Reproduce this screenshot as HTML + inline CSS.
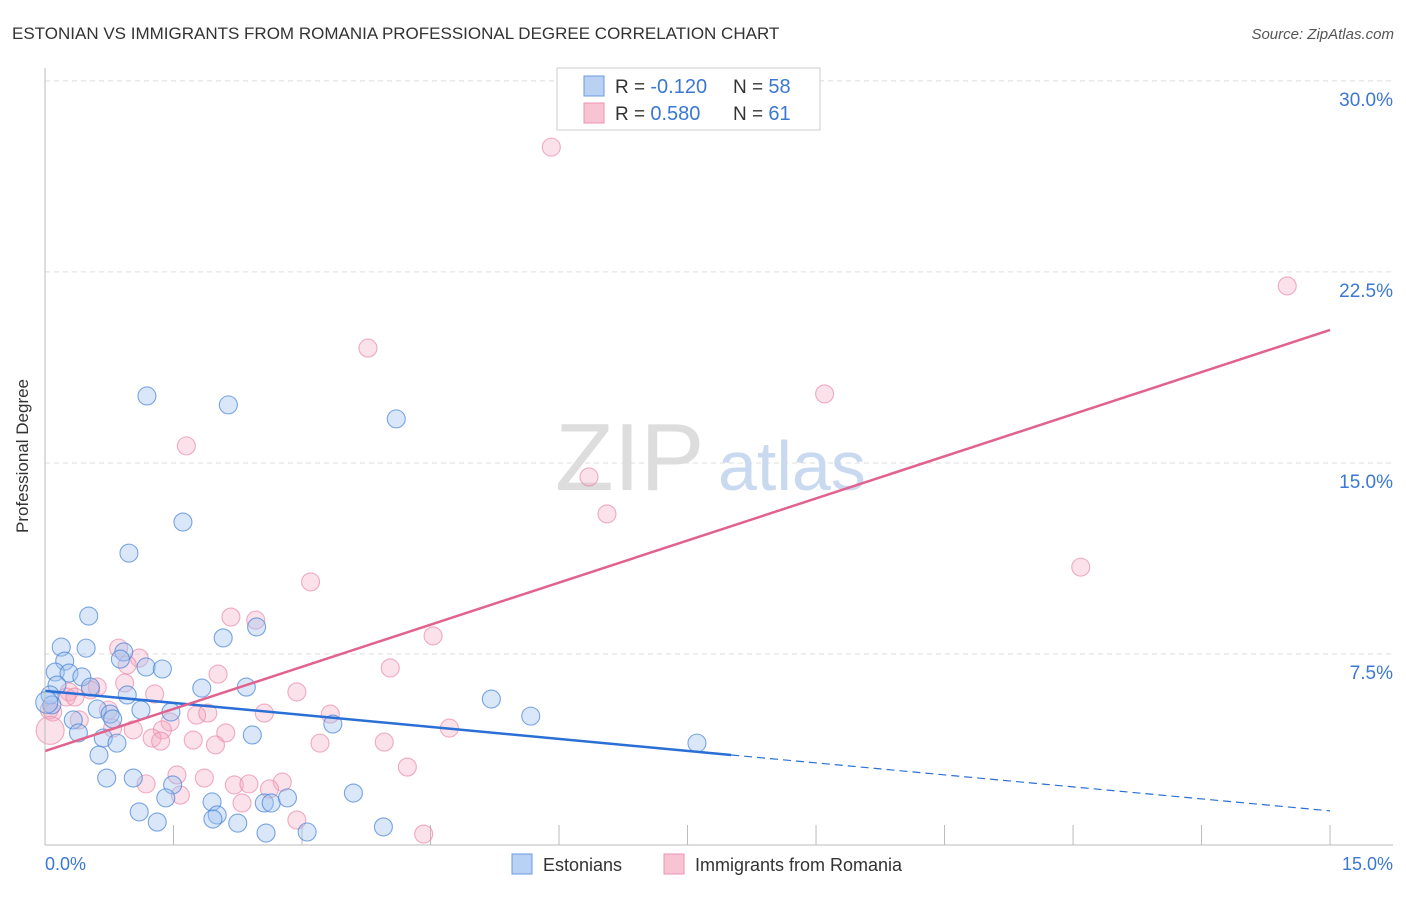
<!DOCTYPE html>
<html><head><meta charset="utf-8"><style>
body{margin:0;background:#fff;font-family:"Liberation Sans",sans-serif}
svg text{font-family:"Liberation Sans",sans-serif}
</style></head><body>
<svg id="chart" width="1406" height="892" viewBox="0 0 1406 892">
<text x="12" y="39" font-size="17" fill="#333">ESTONIAN VS IMMIGRANTS FROM ROMANIA PROFESSIONAL DEGREE CORRELATION CHART</text>
<text x="1394" y="39" font-size="15" fill="#555" font-style="italic" text-anchor="end">Source: ZipAtlas.com</text>
<text x="28" y="456" font-size="17" fill="#333" text-anchor="middle" transform="rotate(-90 28 456)">Professional Degree</text>
<g id="grid"></g>
<text x="555" y="490" font-size="96" fill="#ddd" font-family="Liberation Serif">ZIP</text>
<text x="718" y="490" font-size="70" fill="#c9daf0">atlas</text>
<g id="points"></g>
<g id="lines"></g>
<line x1="45" y1="68" x2="45" y2="845" stroke="#bbb"/>
<line x1="45" y1="845" x2="1393" y2="845" stroke="#bbb"/>
<text x="45" y="870" font-size="18" fill="#3a78d4">0.0%</text>
<text x="1393" y="870" font-size="18" fill="#3a78d4" text-anchor="end">15.0%</text>
<g>
<rect x="557" y="68" width="263" height="62" fill="#fff" stroke="#ccc"/>
<rect x="584" y="76" width="20" height="20" fill="#b9d2f3" stroke="#6b9be0"/>
<rect x="584" y="103" width="20" height="20" fill="#f8c4d3" stroke="#ec93b1"/>
<text x="615" y="93" font-size="19" fill="#333">R = <tspan fill="#3a78d4" font-size="20">-0.120</tspan></text>
<text x="733" y="93" font-size="19" fill="#333">N = <tspan fill="#3a78d4" font-size="20">58</tspan></text>
<text x="615" y="120" font-size="19" fill="#333">R = <tspan fill="#3a78d4" font-size="20"> 0.580</tspan></text>
<text x="733" y="120" font-size="19" fill="#333">N = <tspan fill="#3a78d4" font-size="20"> 61</tspan></text>
</g>
<g>
<rect x="512" y="854" width="20" height="20" fill="#b9d2f3" stroke="#6b9be0"/>
<text x="543" y="871" font-size="18" fill="#333">Estonians</text>
<rect x="664" y="854" width="20" height="20" fill="#f8c4d3" stroke="#ec93b1"/>
<text x="695" y="871" font-size="18" fill="#333">Immigrants from Romania</text>
</g>
</svg>
<script>
const yTicks=[7.5,15,22.5,30];
const yTickLabels=["7.5%","15.0%","22.5%","30.0%"];
const xTicks=[1.5,3,4.5,6,7.5,9,10.5,12,13.5,15];
const blueX=[1.19,2.14,4.10,1.61,0.98,0.51,2.47,2.08,0.19,0.48,0.92,0.23,0.88,1.18,1.37,0.12,0.28,0.43,0.14,0.53,1.83,2.35,0.06,0.96,5.21,0.08,0.61,1.12,1.47,0.76,0.79,5.67,3.36,0.33,0.39,2.42,0.68,0.84,7.61,0.63,0.72,1.03,1.49,3.60,1.41,1.95,2.56,2.64,2.83,1.10,2.01,1.96,1.31,2.25,3.95,2.58,3.06,0.02];
const blueY=[17.63,17.28,16.73,12.68,11.46,8.99,8.56,8.13,7.77,7.73,7.58,7.22,7.30,6.99,6.91,6.79,6.75,6.60,6.28,6.20,6.16,6.20,5.89,5.89,5.73,5.50,5.34,5.30,5.22,5.14,4.95,5.06,4.75,4.91,4.40,4.32,4.20,4.00,4.00,3.53,2.63,2.63,2.36,2.04,1.85,1.69,1.65,1.65,1.85,1.30,1.18,1.02,0.90,0.86,0.71,0.47,0.51,5.6];
const pinkX=[5.91,14.50,3.77,9.10,1.65,6.35,6.56,12.09,3.10,2.17,2.46,4.53,0.86,1.10,0.96,2.02,4.03,0.93,0.61,0.53,0.28,0.25,0.35,2.94,1.28,0.05,0.09,0.74,1.77,1.90,2.56,3.33,1.46,0.40,0.79,1.03,4.72,1.37,2.11,1.25,1.73,1.35,1.99,3.21,3.96,4.23,1.54,1.18,1.86,2.21,2.38,2.77,2.62,1.58,2.30,2.94,4.42,0.06];
const pinkY=[27.40,21.95,19.51,17.71,15.67,14.45,13.00,10.91,10.33,8.95,8.83,8.21,7.73,7.34,7.07,6.71,6.95,6.36,6.20,6.09,6.01,5.81,5.81,6.01,5.93,5.30,5.22,5.30,5.10,5.18,5.18,5.14,4.83,4.91,4.59,4.52,4.59,4.52,4.40,4.20,4.12,4.08,3.93,4.00,4.04,3.06,2.75,2.40,2.63,2.36,2.40,2.47,2.20,1.96,1.65,0.98,0.43,4.5];
const blueTrend=[6.05,-0.314,8.01];
const pinkTrend=[3.69,1.102];
const NS="http://www.w3.org/2000/svg";
const sx=v=>45+v*85.67, sy=v=>845-v*25.47;
function mk(tag,attrs,parent){const e=document.createElementNS(NS,tag);for(const k in attrs)e.setAttribute(k,attrs[k]);parent.appendChild(e);return e;}
const grid=document.getElementById('grid');
yTicks.forEach((t,i)=>{
 const l=mk('line',{x1:45,x2:1393,y1:sy(t),y2:sy(t),stroke:'#ddd','stroke-dasharray':'5,4'},grid);
 
 
 const tx=mk('text',{x:1393,y:sy(t)+25,'font-size':19,fill:'#3a78d4','text-anchor':'end'},grid);
 tx.textContent=yTickLabels[i];
 
 
});
xTicks.forEach(t=>{
 const l=mk('line',{x1:sx(t),x2:sx(t),y1:825,y2:845,stroke:'#bbb'},grid);
 
 
});
const pts=document.getElementById('points');
pinkX.forEach((x,i)=>{
 const c=mk('circle',{cx:sx(x),cy:sy(pinkY[i]),r:i===pinkX.length-1?14:9,fill:'rgba(244,170,194,0.35)',stroke:'rgba(232,130,165,0.65)','stroke-width':1.1},pts);
 
 
});
blueX.forEach((x,i)=>{
 const c=mk('circle',{cx:sx(x),cy:sy(blueY[i]),r:i===blueX.length-1?11:9,fill:'rgba(160,195,240,0.4)',stroke:'rgba(70,130,215,0.7)','stroke-width':1.1},pts);
 
 
});
const ln=document.getElementById('lines');
const b1=mk('line',{x1:sx(0),y1:sy(blueTrend[0]),x2:sx(blueTrend[2]),y2:sy(blueTrend[0]+blueTrend[1]*blueTrend[2]),stroke:'#2a6fd6','stroke-width':2.5},ln);


const b2=mk('line',{x1:sx(blueTrend[2]),y1:sy(blueTrend[0]+blueTrend[1]*blueTrend[2]),x2:sx(15),y2:sy(blueTrend[0]+blueTrend[1]*15),stroke:'#2a6fd6','stroke-width':1.2,'stroke-dasharray':'8,5'},ln);


const p1=mk('line',{x1:sx(0),y1:sy(pinkTrend[0]),x2:sx(15),y2:sy(pinkTrend[0]+pinkTrend[1]*15),stroke:'#e2628f','stroke-width':2.5},ln);


</script>
</body></html>
